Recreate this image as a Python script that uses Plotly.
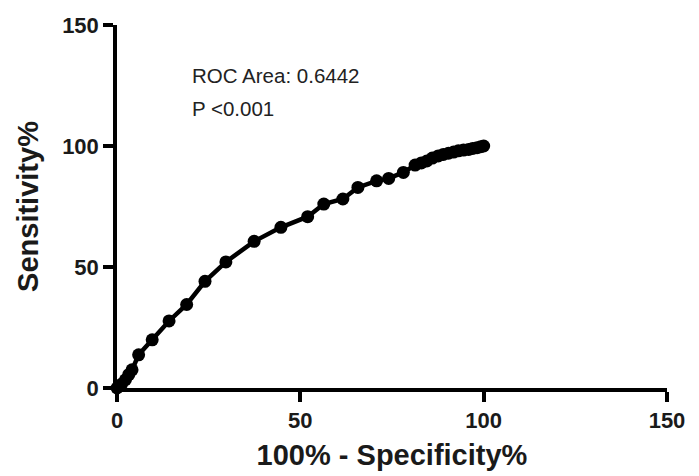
import plotly.graph_objects as go

fpr = [0, 0.6, 1.2, 2.3, 3.2, 4.1, 5.9, 9.6, 14.2, 19.0, 24.0, 29.7, 37.4, 44.7, 52.0, 56.4,
       61.6, 65.7, 70.8, 74.1, 78.1, 81.3, 83.0, 84.5, 86.0, 87.6, 89.0, 90.4, 91.8,
       93.1, 94.5, 95.9, 97.0, 98.2, 99.2, 100]
tpr = [0, 0.8, 1.5, 3.4, 5.5, 7.5, 13.7, 19.9, 27.7, 34.5, 44.1, 52.1, 60.6, 66.4, 70.8, 76.0,
       78.1, 82.9, 85.6, 86.6, 89.1, 92.1, 93.0, 93.8, 95.0, 95.9, 96.5, 97.0, 97.5,
       98.0, 98.3, 98.6, 99.0, 99.3, 99.7, 100]
tick_vals = [0, 50, 100, 150]
annot_lines = ["ROC Area: 0.6442", "P <0.001"]
annot_y = [129, 115.5]

FONT = "Arial, Liberation Sans, Helvetica, sans-serif"

fig = go.Figure()
fig.add_trace(go.Scatter(
    x=fpr, y=tpr, mode="lines+markers",
    line=dict(color="black", width=4.5),
    marker=dict(color="black", size=13),
    cliponaxis=False, showlegend=False,
))

axis_common = dict(
    range=[0, 150], tickvals=tick_vals, showgrid=False, zeroline=False,
    showline=True, linecolor="black", linewidth=3.5, automargin=False,
    ticks="outside", ticklen=10, tickwidth=3.5, tickcolor="black",
    tickfont=dict(family=FONT, size=22, color="#1a1a1a", weight="bold"),
)

fig.update_layout(
    width=699, height=476,
    paper_bgcolor="white", plot_bgcolor="white",
    margin=dict(l=109, r=40, t=17, b=96),
    font=dict(family=FONT),
    xaxis=dict(**axis_common,
               title=dict(text="100% - Specificity%", standoff=14,
                          font=dict(family=FONT, size=29, color="#1a1a1a", weight="bold"))),
    yaxis=dict(**axis_common,
               title=dict(text="Sensitivity%", standoff=16,
                          font=dict(family=FONT, size=29, color="#1a1a1a", weight="bold"))),
    annotations=[dict(
        x=20.0, y=yv, xref="x", yref="y", xanchor="left", yanchor="middle",
        text=t, showarrow=False, align="left",
        font=dict(family=FONT, size=20.5, color="#222"),
    ) for t, yv in zip(annot_lines, annot_y)],
)

fig.write_html("out.html")
